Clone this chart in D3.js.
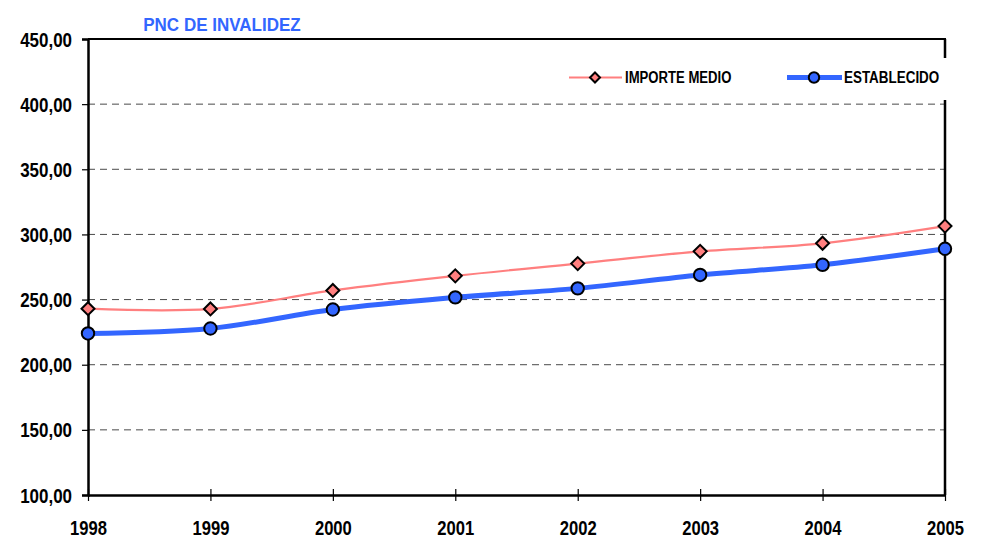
<!DOCTYPE html>
<html>
<head>
<meta charset="utf-8">
<script src="https://cdn.jsdelivr.net/npm/d3@7"></script>
<style>
  html, body { margin: 0; padding: 0; background: #fff; }
  svg { display: block; }
  text { font-family: 'Liberation Sans', Arial, sans-serif; font-weight: bold; }
</style>
</head>
<body>
<svg id="chart" width="986" height="538"></svg>
<script>
const years = ["1998","1999","2000","2001","2002","2003","2004","2005"];
const importeMedio = [243.0, 242.8, 257.0, 268.2, 277.6, 287.0, 293.2, 306.4];
const establecido = [224.0, 227.8, 242.4, 251.7, 258.6, 268.9, 276.7, 289.0];
const yTicks = [100, 150, 200, 250, 300, 350, 400, 450];
const titleText = "PNC DE INVALIDEZ";
const seriesNames = ["IMPORTE MEDIO", "ESTABLECIDO"];

(function () {
const svg = d3.select("#chart");
const pL = 88, pR = 945, pT = 39, pB = 495;

const x = d3.scalePoint().domain(years).range([pL, pR]);
const y = d3.scaleLinear().domain([100, 450]).range([pB, pT]);

const fmt = v => d3.format(".2f")(v).replace(".", ",");

// horizontally condense text (narrow font look)
function squeeze(sel, sx, xPos) {
  sel.attr("transform", `scale(${sx},1)`).attr("x", xPos / sx);
}

// gridlines
svg.append("g").selectAll("line").data(yTicks.filter(t => t !== 100 && t !== 450)).join("line")
  .attr("x1", pL).attr("x2", pR)
  .attr("y1", d => y(d)).attr("y2", d => y(d))
  .attr("stroke", "#4a4a4a").attr("stroke-width", 1)
  .attr("stroke-dasharray", "7,5");

// top and right border
svg.append("line").attr("x1", pL).attr("x2", pR + 1).attr("y1", pT).attr("y2", pT)
  .attr("stroke", "#000").attr("stroke-width", 2);
svg.append("line").attr("x1", pR).attr("x2", pR).attr("y1", pT).attr("y2", pB)
  .attr("stroke", "#000").attr("stroke-width", 2.5);

// axes
const yAxis = svg.append("g").attr("transform", `translate(${pL},0)`)
  .call(d3.axisLeft(y).tickValues(yTicks).tickFormat(fmt).tickSize(6).tickPadding(10));
yAxis.select(".domain").attr("stroke", "#000").attr("stroke-width", 2.5);
yAxis.selectAll(".tick line").attr("stroke", "#000").attr("stroke-width", 1.2);
yAxis.selectAll(".tick text").attr("font-size", 19.5).attr("fill", "#000").attr("dy", "0.36em")
  .call(squeeze, 0.87, -16);

const xAxis = svg.append("g").attr("transform", `translate(0,${pB})`)
  .call(d3.axisBottom(x).tickSize(0).tickPadding(25));
xAxis.select(".domain").attr("stroke", "#000").attr("stroke-width", 2.5);
xAxis.selectAll(".tick line").remove();
xAxis.selectAll(".tick").append("line")
  .attr("y1", -6).attr("y2", 6).attr("stroke", "#000").attr("stroke-width", 1.2);
xAxis.selectAll(".tick text").attr("font-size", 20.5).attr("fill", "#000")
  .attr("y", 40).attr("dy", 0)
  .call(squeeze, 0.81, 0);

// lines
const line = d3.line().x((d, i) => x(years[i])).y(d => y(d)).curve(d3.curveCatmullRom.alpha(0));
svg.append("path").datum(importeMedio).attr("d", line)
  .attr("fill", "none").attr("stroke", "#ff7f7f").attr("stroke-width", 2.2);
svg.append("path").datum(establecido).attr("d", line)
  .attr("fill", "none").attr("stroke", "#3366ff").attr("stroke-width", 5);

const diamond = (cx, cy, r) => `M${cx},${cy - r}L${cx + r},${cy}L${cx},${cy + r}L${cx - r},${cy}Z`;

svg.append("g").selectAll("path").data(importeMedio).join("path")
  .attr("d", (d, i) => diamond(x(years[i]), y(d), 6.5))
  .attr("fill", "#ff7f7f").attr("stroke", "#000").attr("stroke-width", 2);
svg.append("g").selectAll("circle").data(establecido).join("circle")
  .attr("cx", (d, i) => x(years[i])).attr("cy", d => y(d)).attr("r", 6.2)
  .attr("fill", "#3366ff").attr("stroke", "#000").attr("stroke-width", 2);

// title
svg.append("text").attr("y", 31).attr("text-anchor", "middle")
  .attr("font-size", 18.5).attr("fill", "#3366ff").text(titleText)
  .call(squeeze, 0.92, 222);

// legend
const lg = svg.append("g");
lg.append("rect").attr("x", 553).attr("y", 58).attr("width", 398).attr("height", 42).attr("fill", "#fff");
const ly = 77.5;
lg.append("line").attr("x1", 569).attr("x2", 622).attr("y1", ly).attr("y2", ly)
  .attr("stroke", "#ff7f7f").attr("stroke-width", 2.2);
lg.append("path").attr("d", diamond(595, ly, 5)).attr("fill", "#ff7f7f").attr("stroke", "#000").attr("stroke-width", 2);
lg.append("text").attr("y", ly + 6).attr("font-size", 16).attr("fill", "#000").text(seriesNames[0])
  .call(squeeze, 0.82, 625);
lg.append("line").attr("x1", 787).attr("x2", 842).attr("y1", ly).attr("y2", ly)
  .attr("stroke", "#3366ff").attr("stroke-width", 5);
lg.append("circle").attr("cx", 814).attr("cy", ly).attr("r", 5.2).attr("fill", "#3366ff").attr("stroke", "#000").attr("stroke-width", 2);
lg.append("text").attr("y", ly + 6).attr("font-size", 16).attr("fill", "#000").text(seriesNames[1])
  .call(squeeze, 0.84, 844);
})();
</script>
</body>
</html>
